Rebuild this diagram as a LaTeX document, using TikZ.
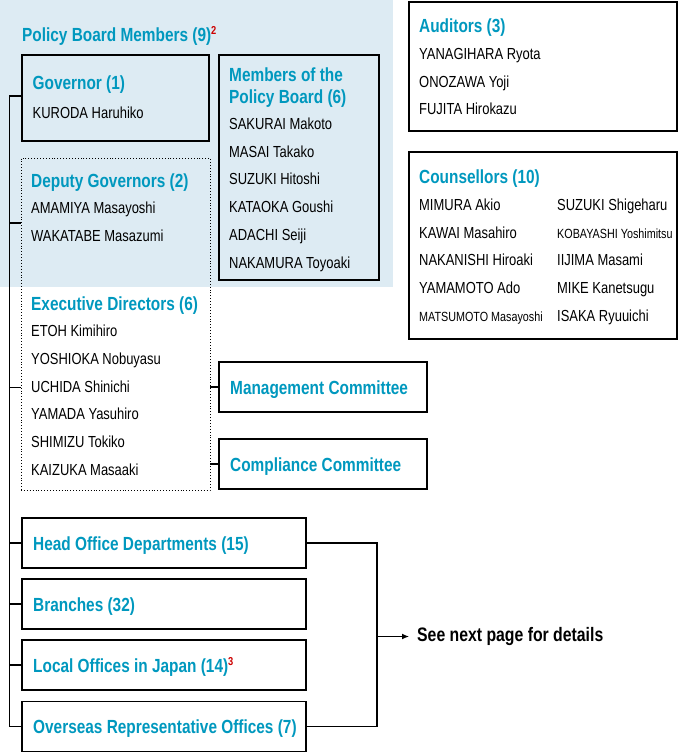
\documentclass[tikz,border=0pt]{standalone}
\usepackage{fontspec}
\setmainfont{Liberation Sans}[FakeStretch=0.81]
\usetikzlibrary{arrows.meta}

\definecolor{boardblue}{RGB}{0,152,190}
\definecolor{boardbg}{RGB}{221,235,243}
\definecolor{notered}{RGB}{204,0,0}

\newcommand{\notemark}[1]{\raisebox{6.5pt}{\fontsize{11.5}{12}\selectfont\bfseries\color{notered}#1}}

\tikzset{
	head/.style={anchor=base west, inner sep=0pt, text=boardblue, font=\fontsize{19}{21}\selectfont\bfseries},
	person/.style={anchor=base west, inner sep=0pt, font=\fontsize{16}{18}\selectfont},
	small person/.style={person, font=\fontsize{13.3}{15}\selectfont},
	box/.style={draw, line width=1.8pt, anchor=north west, inner sep=0pt, outer sep=0pt},
	dotbox/.style={draw, line width=0.9pt, dotted, anchor=north west, inner sep=0pt, outer sep=0pt},
	link/.style={draw, line width=1.2pt},
}

\begin{document}
\begin{tikzpicture}[x=1pt,y=-1pt]
	
	\useasboundingbox (0,0) rectangle (680,753);
	\fill[boardbg] (0,0) rectangle (393,287);
	
	% boxes
	\node[box, minimum width=187pt, minimum height=86pt] (gov) at (22,55) {};
	\node[box, minimum width=160pt, minimum height=225pt] (mem) at (219,55) {};
	\node[dotbox, minimum width=189pt, minimum height=332pt] (dep) at (21,158) {};
	\node[box, minimum width=208pt, minimum height=50pt] (mgmt) at (219,362) {};
	\node[box, minimum width=208pt, minimum height=50pt] (comp) at (219,439) {};
	\node[box, minimum width=268pt, minimum height=129pt] (aud) at (409,2) {};
	\node[box, minimum width=268pt, minimum height=187pt] (coun) at (409,152) {};
	\node[box, minimum width=284pt, minimum height=50pt] (head) at (22,518) {};
	\node[box, minimum width=284pt, minimum height=50pt] (branch) at (22,579) {};
	\node[box, minimum width=284pt, minimum height=50pt] (local) at (22,640) {};
	\node[box, minimum width=284pt, minimum height=50pt] (over) at (22,701.5) {};
	
	% policy board
	\node[head] (pbm) at (22,41) {Policy Board Members (9)\notemark{2}};
	\node[head] (govt) at (32.5,89) {Governor (1)};
	\node[person] (kuroda) at (32.5,118) {KURODA Haruhiko};
	
	\node[head] (memt) at (229,81) {Members of the};
	\node[head] (memtb) at (229,103) {Policy Board (6)};
	\node[person] (sakurai) at (229,129.5) {SAKURAI Makoto};
	\node[person] (masai) at (229,157.2) {MASAI Takako};
	\node[person] (suzukih) at (229,184.9) {SUZUKI Hitoshi};
	\node[person] (kataoka) at (229,212.6) {KATAOKA Goushi};
	\node[person] (adachi) at (229,240.3) {ADACHI Seiji};
	\node[person] (nakamura) at (229,268) {NAKAMURA Toyoaki};
	
	\node[head] (dept) at (31,187.3) {Deputy Governors (2)};
	\node[person] (amamiya) at (31,213.5) {AMAMIYA Masayoshi};
	\node[person] (wakatabe) at (31,241) {WAKATABE Masazumi};
	
	% executive directors
	\node[head] (exect) at (31,310.7) {Executive Directors (6)};
	\node[person] (etoh) at (31,336.7) {ETOH Kimihiro};
	\node[person] (yoshioka) at (31,364.4) {YOSHIOKA Nobuyasu};
	\node[person] (uchida) at (31,392.1) {UCHIDA Shinichi};
	\node[person] (yamada) at (31,419.8) {YAMADA Yasuhiro};
	\node[person] (shimizu) at (31,447.5) {SHIMIZU Tokiko};
	\node[person] (kaizuka) at (31,475.2) {KAIZUKA Masaaki};
	
	\node[head] (mgmtt) at (230,394) {Management Committee};
	\node[head] (compt) at (230,471.5) {Compliance Committee};
	
	% auditors
	\node[head] (audt) at (419,32.3) {Auditors (3)};
	\node[person] (yanagihara) at (419,59) {YANAGIHARA Ryota};
	\node[person] (onozawa) at (419,87) {ONOZAWA Yoji};
	\node[person] (fujita) at (419,114.5) {FUJITA Hirokazu};
	
	% counsellors
	\node[head] (count) at (419,183.3) {Counsellors (10)};
	\node[person] (mimura) at (419,210.7) {MIMURA Akio};
	\node[person] (kawai) at (419,238.3) {KAWAI Masahiro};
	\node[person] (nakanishi) at (419,265.9) {NAKANISHI Hiroaki};
	\node[person] (yamamoto) at (419,293.5) {YAMAMOTO Ado};
	\node[small person] (matsumoto) at (419,321.1) {MATSUMOTO Masayoshi};
	\node[person] (suzukis) at (557,210.7) {SUZUKI Shigeharu};
	\node[small person] (kobayashi) at (557,238.3) {KOBAYASHI Yoshimitsu};
	\node[person] (iijima) at (557,265.9) {IIJIMA Masami};
	\node[person] (mike) at (557,293.5) {MIKE Kanetsugu};
	\node[person] (isaka) at (557,321.1) {ISAKA Ryuuichi};
	
	% offices
	\node[head] (headt) at (33,550) {Head Office Departments (15)};
	\node[head] (brancht) at (33,611) {Branches (32)};
	\node[head] (localt) at (33,672) {Local Offices in Japan (14)\notemark{3}};
	\node[head] (overt) at (33,733.5) {Overseas Representative Offices (7)};
	
	\node[anchor=west, inner sep=0pt, inner xsep=8pt, font=\fontsize{19.5}{21}\selectfont\bfseries] (next) at (409,636.5) {See next page for details};
	
	% connectors
	\coordinate (spine) at (9.5,96);
	\coordinate (deptick) at (21,223);
	\coordinate (exectick) at (21,387.5);
	\coordinate (fork) at (377,636.5);
	
	\path[link] (gov.west |- spine) -- (spine) -- (spine |- over.west) -- (over.west);
	\path[link] (spine |- deptick) -- (deptick);
	\path[link] (spine |- exectick) -- (exectick);
	\path[link] (spine |- head.west) -- (head.west);
	\path[link] (spine |- branch.west) -- (branch.west);
	\path[link] (spine |- local.west) -- (local.west);
	
	\path[link] (dep.east |- mgmt.west) -- (mgmt.west);
	\path[link] (dep.east |- comp.west) -- (comp.west);
	
	\path[link] (head.east) -| (fork |- over.east) -- (over.east);
	\path[link, -{Latex[length=7pt,width=6pt]}] (fork) -- (next.west);
	
\end{tikzpicture}
\end{document}
